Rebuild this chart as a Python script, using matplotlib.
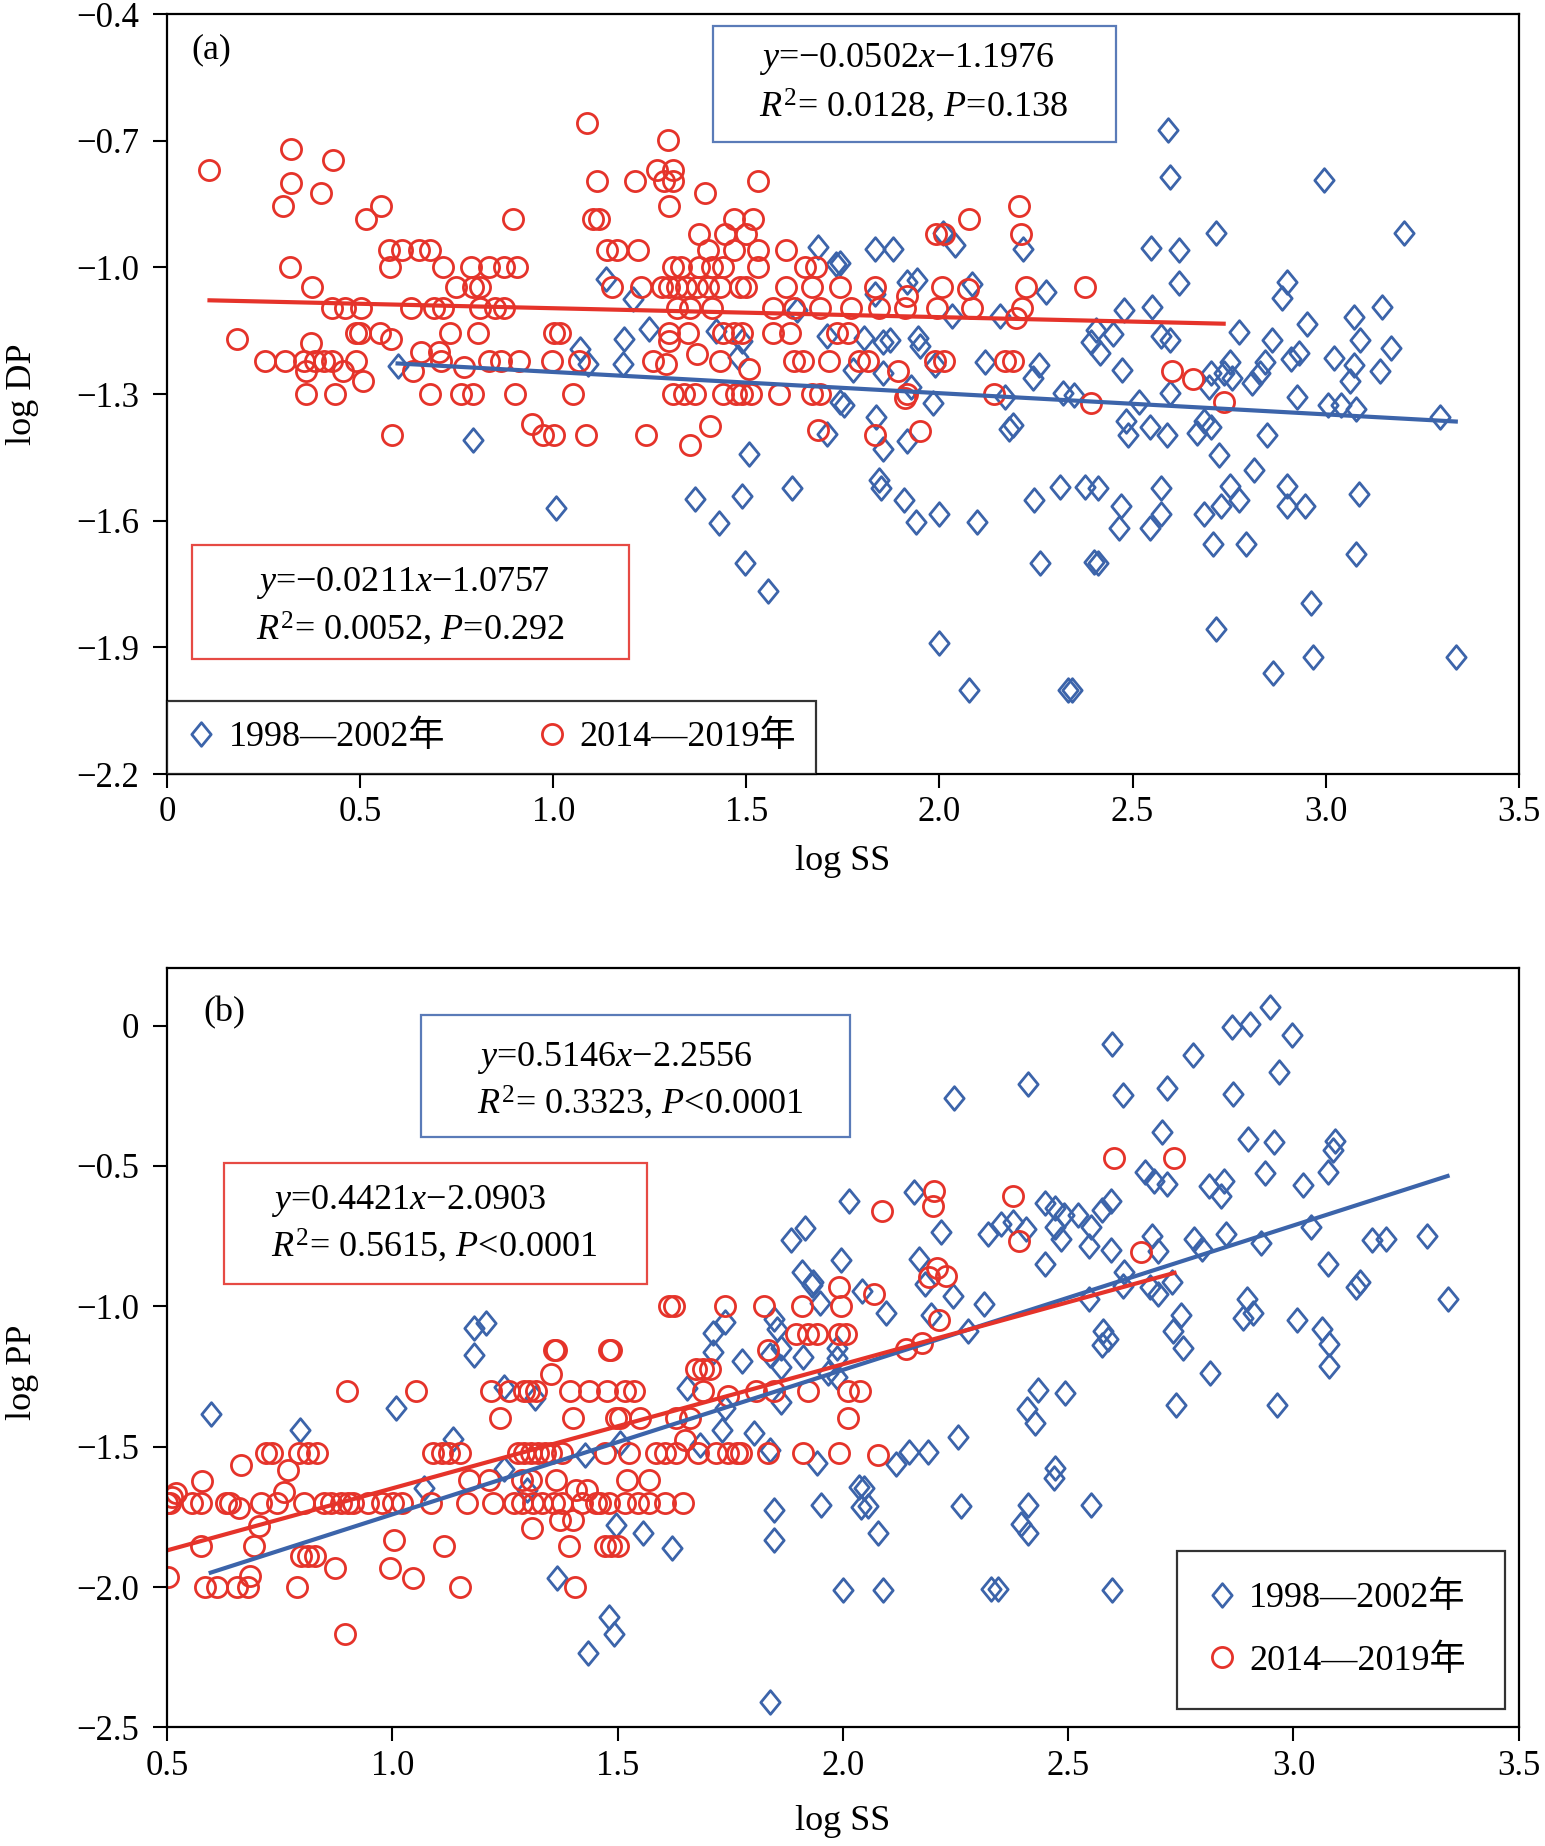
import matplotlib
matplotlib.use('Agg')
import matplotlib.pyplot as plt
from matplotlib.patches import Rectangle
from matplotlib.path import Path
import numpy as np

plt.rcParams['font.family'] = ['Liberation Serif', 'Noto Sans CJK SC']
plt.rcParams['mathtext.fontset'] = 'custom'
plt.rcParams['mathtext.rm'] = 'Liberation Serif'
plt.rcParams['mathtext.it'] = 'Liberation Serif:italic'

# ---------------- data: panel (a) log SS vs log DP ----------------
dp_red_x = [0.11, 0.32, 0.32, 0.30, 0.40, 0.43, 0.555, 0.515, 0.895, 1.087,
            1.113, 1.103, 1.118, 1.212, 1.27, 1.297, 1.31, 1.287, 1.31, 1.30,
            1.394, 1.531, 1.467, 1.518, 1.377, 1.445, 1.50, 2.205, 2.21, 2.077,
            1.991, 2.012,
            0.574, 0.608, 0.653, 0.681, 1.14, 1.164, 1.22, 1.40, 1.467, 1.529, 1.602,
            0.319, 0.578, 0.715, 0.788, 0.833, 0.872, 0.906, 1.31, 1.332, 1.377,
            1.411, 1.439, 1.529, 1.652, 1.68,
            0.376, 0.749, 0.793, 0.81, 1.153, 1.226, 1.282, 1.299, 1.321, 1.344,
            1.372, 1.40, 1.433, 1.484, 1.50, 1.602, 1.669, 1.742, 1.832, 2.006,
            2.225, 2.376,
            0.428, 0.462, 0.501, 0.631, 0.692, 0.715, 0.81, 0.85, 0.872, 1.321,
            1.355, 1.411, 1.568, 1.624, 1.692, 1.77, 1.843, 1.91, 1.995, 2.085, 2.214,
            0.49, 0.50, 0.552, 0.732, 0.805, 1.001, 1.018, 1.299, 1.349, 1.439,
            1.467, 1.49, 1.568, 1.613, 1.736, 1.764,
            0.254, 0.305, 0.355, 0.383, 0.406, 0.428, 0.49, 0.709, 0.833, 0.866,
            0.911, 0.996, 1.068, 1.259, 1.433, 1.624, 1.647, 1.714, 1.793, 1.815,
            1.989, 2.012, 2.169, 2.191,
            0.361, 0.434, 0.681, 0.76, 0.793, 0.90, 1.052, 1.31, 1.338, 1.366,
            1.439, 1.473, 1.49, 1.512, 1.585, 1.669, 1.692, 1.916, 2.141,
            0.583, 0.973, 1.001, 1.085, 1.24, 1.832,
            0.18, 0.58, 1.299, 0.372, 0.658, 0.703, 1.293, 1.372, 0.636, 0.456,
            0.361, 0.77, 1.506, 0.507, 0.945, 1.353, 1.405, 1.686, 1.916, 2.073,
            2.197, 1.894, 1.91, 2.393, 2.601, 2.657, 2.736, 1.95]
dp_red_y = [-0.77, -0.72, -0.80, -0.854, -0.824, -0.745, -0.854, -0.886, -0.886, -0.658,
            -0.796, -0.886, -0.886, -0.796, -0.77, -0.699, -0.77, -0.796, -0.796, -0.854,
            -0.824, -0.796, -0.886, -0.886, -0.921, -0.921, -0.921, -0.854, -0.921, -0.886,
            -0.921, -0.921,
            -0.959, -0.959, -0.959, -0.959, -0.959, -0.959, -0.959, -0.959, -0.959, -0.959, -0.959,
            -1.0, -1.0, -1.0, -1.0, -1.0, -1.0, -1.0, -1.0, -1.0, -1.0,
            -1.0, -1.0, -1.0, -1.0, -1.0,
            -1.046, -1.046, -1.046, -1.046, -1.046, -1.046, -1.046, -1.046, -1.046, -1.046,
            -1.046, -1.046, -1.046, -1.046, -1.046, -1.046, -1.046, -1.046, -1.046, -1.046,
            -1.046, -1.046,
            -1.097, -1.097, -1.097, -1.097, -1.097, -1.097, -1.097, -1.097, -1.097, -1.097,
            -1.097, -1.097, -1.097, -1.097, -1.097, -1.097, -1.097, -1.097, -1.097, -1.097, -1.097,
            -1.155, -1.155, -1.155, -1.155, -1.155, -1.155, -1.155, -1.155, -1.155, -1.155,
            -1.155, -1.155, -1.155, -1.155, -1.155, -1.155,
            -1.222, -1.222, -1.222, -1.222, -1.222, -1.222, -1.222, -1.222, -1.222, -1.222,
            -1.222, -1.222, -1.222, -1.222, -1.222, -1.222, -1.222, -1.222, -1.222, -1.222,
            -1.222, -1.222, -1.222, -1.222,
            -1.301, -1.301, -1.301, -1.301, -1.301, -1.301, -1.301, -1.301, -1.301, -1.301,
            -1.301, -1.301, -1.301, -1.301, -1.301, -1.301, -1.301, -1.301, -1.301,
            -1.398, -1.398, -1.398, -1.398, -1.398, -1.398,
            -1.17, -1.17, -1.175, -1.18, -1.20, -1.20, -1.23, -1.205, -1.245, -1.245,
            -1.245, -1.237, -1.24, -1.27, -1.37, -1.42, -1.375, -1.385, -1.068, -1.052,
            -1.12, -1.246, -1.31, -1.322, -1.246, -1.265, -1.32, -1.387]

dp_blue_x = [0.597, 1.136, 1.207, 1.248, 1.184, 1.069, 1.091, 1.181, 0.793, 1.686,
             1.731, 1.49, 1.478, 1.422, 1.708, 1.742, 1.708, 1.506, 1.618, 1.49,
             1.366, 1.007, 1.43, 1.497, 1.555, 1.63,
             2.592, 2.598, 2.996, 2.717, 3.202, 2.548, 2.62, 2.216, 2.04, 2.008,
             1.832, 1.879, 1.742, 2.62, 2.899, 2.887, 2.275, 1.916, 1.942, 2.085,
             1.832, 2.551, 2.478, 3.146, 3.073, 2.953, 2.775, 2.862, 3.09, 3.17,
             3.022, 2.932, 2.91, 2.405, 2.45, 2.393, 2.416, 2.573, 2.596, 2.472,
             2.032, 2.157, 1.804, 1.854, 1.871, 1.944, 1.95, 1.776, 1.854, 1.989,
             2.118, 2.259, 2.242, 2.753, 2.736, 2.758, 2.843, 2.831, 2.809, 3.073,
             3.062, 3.14, 2.702, 2.697, 2.596, 2.517, 2.32, 2.348, 2.169, 1.927,
             1.983, 1.753, 2.927, 3.005, 3.039, 3.078, 3.297, 2.483, 2.489, 2.545,
             2.59, 2.668, 2.685, 2.702, 2.848, 2.725, 2.814, 1.837, 1.854, 1.916,
             2.18, 2.191, 1.843, 1.849, 1.908, 1.939, 1.998, 2.096, 2.245, 2.312,
             2.376, 2.41, 2.47, 2.466, 2.573, 2.573, 2.545, 2.685, 2.73, 2.753,
             2.775, 2.899, 2.899, 2.946, 3.087, 2.708, 2.795, 3.078, 2.261, 2.399,
             2.41, 2.0, 2.963, 2.717, 2.966, 3.337, 2.863, 2.077, 2.332, 2.343]
dp_blue_y = [-1.233, -1.027, -1.075, -1.146, -1.17, -1.193, -1.229, -1.229, -1.409, -0.952,
             -0.992, -1.174, -1.213, -1.15, -1.162, -1.32, -1.395, -1.442, -1.522, -1.541,
             -1.549, -1.57, -1.605, -1.70, -1.767, -1.10,
             -0.674, -0.785, -0.792, -0.918, -0.918, -0.953, -0.96, -0.956, -0.946, -0.918,
             -0.956, -0.956, -0.989, -1.038, -1.035, -1.073, -1.059, -1.035, -1.03, -1.04,
             -1.064, -1.094, -1.101, -1.094, -1.118, -1.134, -1.153, -1.172, -1.172, -1.19,
             -1.214, -1.204, -1.218, -1.148, -1.157, -1.176, -1.204, -1.162, -1.172, -1.242,
             -1.115, -1.115, -1.167, -1.176, -1.172, -1.167, -1.186, -1.242, -1.251, -1.232,
             -1.223, -1.232, -1.261, -1.223, -1.251, -1.261, -1.223, -1.251, -1.275, -1.232,
             -1.27, -1.246, -1.251, -1.284, -1.298, -1.319, -1.298, -1.303, -1.307, -1.284,
             -1.322, -1.326, -1.307, -1.326, -1.326, -1.336, -1.354, -1.364, -1.397, -1.378,
             -1.397, -1.392, -1.364, -1.378, -1.397, -1.444, -1.481, -1.354, -1.43, -1.411,
             -1.383, -1.373, -1.504, -1.523, -1.551, -1.603, -1.584, -1.603, -1.551, -1.521,
             -1.521, -1.523, -1.565, -1.617, -1.523, -1.584, -1.617, -1.584, -1.565, -1.519,
             -1.551, -1.519, -1.565, -1.565, -1.537, -1.656, -1.656, -1.678, -1.70, -1.697,
             -1.70, -1.889, -1.795, -1.856, -1.922, -1.922, -1.96, -2.001, -2.001, -2.001]

# ---------------- data: panel (b) log SS vs log PP ----------------
pp_red_x = [1.615, 1.625, 1.739, 1.826, 1.91, 1.995, 1.991,
            1.897, 1.922, 1.942, 1.991, 2.006,
            1.358, 1.363, 1.481, 1.486, 1.833, 1.353,
            1.674, 1.689, 1.704,
            0.90, 1.053, 1.219, 1.259, 1.293, 1.303, 1.318, 1.395, 1.437, 1.476,
            1.516, 1.536, 1.689, 1.808, 1.848, 1.922, 2.011, 2.037, 1.744,
            1.239, 1.402, 1.496, 1.506, 1.55, 1.63, 1.66, 2.011, 1.65,
            0.719, 0.734, 0.793, 0.813, 0.833, 1.09, 1.11, 1.125, 1.15, 1.278,
            1.293, 1.308, 1.323, 1.338, 1.353, 1.377, 1.471, 1.526, 1.585, 1.605,
            1.63, 1.679, 1.719, 1.744, 1.764, 1.774, 1.833, 1.912, 1.991, 2.079,
            0.665, 0.768, 0.578, 0.759,
            1.17, 1.214, 1.288, 1.308, 1.363, 1.521, 1.57, 1.407, 1.432,
            0.50, 0.506, 0.556, 0.576, 0.63, 0.64, 0.709, 0.744, 0.803, 0.848,
            0.863, 0.887, 0.902, 0.912, 0.947, 0.977, 1.001, 1.021, 1.085, 1.165,
            1.224, 1.269, 1.288, 1.313, 1.333, 1.358, 1.377, 1.422, 1.452, 1.462,
            1.481, 1.516, 1.546, 1.57, 1.605, 1.645,
            0.51, 0.52, 0.66, 1.373, 1.402, 0.704, 1.31, 0.576, 0.694, 0.798,
            0.813, 0.828, 0.872, 1.004, 0.996, 1.046, 1.115, 1.392, 1.471, 1.486,
            1.501, 0.503, 0.684,
            0.585, 0.61, 0.655, 0.68, 0.788, 1.15, 1.405, 0.894,
            2.087, 2.203, 2.199, 2.378, 2.392, 2.602, 2.736, 2.661, 2.21, 2.191,
            2.228, 2.07, 2.214, 2.14, 2.175]
pp_red_y = [-1.0, -1.0, -1.0, -1.0, -1.0, -1.0, -0.93,
            -1.097, -1.097, -1.097, -1.097, -1.097,
            -1.155, -1.155, -1.155, -1.155, -1.155, -1.24,
            -1.222, -1.222, -1.222,
            -1.301, -1.301, -1.301, -1.301, -1.301, -1.301, -1.301, -1.301, -1.301, -1.301,
            -1.301, -1.301, -1.301, -1.301, -1.301, -1.301, -1.301, -1.301, -1.321,
            -1.398, -1.398, -1.398, -1.398, -1.398, -1.398, -1.398, -1.398, -1.476,
            -1.523, -1.523, -1.523, -1.523, -1.523, -1.523, -1.523, -1.523, -1.523, -1.523,
            -1.523, -1.523, -1.523, -1.523, -1.523, -1.523, -1.523, -1.523, -1.523, -1.523,
            -1.523, -1.523, -1.523, -1.523, -1.523, -1.523, -1.523, -1.523, -1.523, -1.53,
            -1.565, -1.583, -1.622, -1.66,
            -1.62, -1.62, -1.62, -1.62, -1.62, -1.62, -1.62, -1.654, -1.654,
            -1.699, -1.699, -1.699, -1.699, -1.699, -1.699, -1.699, -1.699, -1.699, -1.699,
            -1.699, -1.699, -1.699, -1.699, -1.699, -1.699, -1.699, -1.699, -1.699, -1.699,
            -1.699, -1.699, -1.699, -1.699, -1.699, -1.699, -1.699, -1.699, -1.699, -1.699,
            -1.699, -1.699, -1.699, -1.699, -1.699, -1.699,
            -1.68, -1.665, -1.72, -1.76, -1.76, -1.784, -1.79, -1.855, -1.853, -1.89,
            -1.89, -1.89, -1.933, -1.832, -1.933, -1.968, -1.855, -1.855, -1.855, -1.855,
            -1.855, -1.965, -1.962,
            -2.0, -2.0, -2.0, -2.0, -2.0, -2.0, -2.0, -2.167,
            -0.661, -0.589, -0.644, -0.606, -0.768, -0.473, -0.473, -0.807, -0.862, -0.896,
            -0.893, -0.956, -1.05, -1.152, -1.13]

pp_blue_x = [0.597, 0.795, 1.009, 1.182, 1.207, 1.182, 1.07, 1.135, 1.247, 1.249,
             1.316, 1.298, 1.427, 1.366, 1.506, 1.496, 1.556, 1.62, 1.481, 1.493,
             1.435, 1.653, 1.684, 1.712, 1.739, 1.712, 1.732, 1.776, 1.739, 1.803,
             1.838, 1.848, 1.853, 1.838, 1.862, 1.862, 1.848, 1.848, 1.912, 1.942,
             1.952, 1.949, 1.932, 1.986, 1.986, 2.036, 2.04, 2.001, 1.838, 1.966,
             2.014, 1.915, 1.885, 1.995, 1.909, 1.933, 1.862, 1.987,
             2.948, 2.864, 2.904, 2.996, 2.597, 2.777, 2.968, 2.411, 2.247, 2.621,
             2.719, 2.865, 2.708, 2.899, 2.957, 3.092, 3.088, 2.936, 3.076, 3.022,
             2.67, 2.691, 2.719, 2.812, 2.845, 2.84, 2.158, 2.448, 2.471, 2.49,
             2.471, 2.485, 2.521, 2.551, 2.574, 2.595, 2.546, 2.595, 2.686, 2.70,
             2.624, 2.621, 2.546, 2.681, 2.70, 2.73, 2.217, 2.168, 2.182, 2.244,
             2.196, 2.096, 2.042, 2.313, 2.322, 2.35, 2.378, 2.406, 2.448, 2.278,
             2.78, 2.798, 2.85, 2.929, 3.038, 3.076, 3.175, 3.205, 3.296, 3.342,
             3.139, 3.148, 2.896, 2.91, 2.889, 2.751, 2.733, 2.754, 3.008, 3.064,
             3.08, 3.08, 2.577, 2.588, 2.574, 2.814, 2.74, 2.964, 2.433, 2.492,
             2.408, 2.427, 2.256, 2.147, 2.188, 2.119, 2.046, 2.056, 2.079, 2.263,
             2.41, 2.396, 2.41, 2.471, 2.469, 2.551, 2.088, 2.328, 2.345, 2.597]
pp_blue_y = [-1.383, -1.44, -1.363, -1.078, -1.06, -1.173, -1.648, -1.473, -1.286, -1.58,
             -1.327, -1.654, -1.529, -1.968, -1.488, -1.78, -1.806, -1.861, -2.105, -2.167,
             -2.233, -1.292, -1.494, -1.094, -1.054, -1.161, -1.44, -1.193, -1.363, -1.452,
             -1.511, -1.046, -1.082, -1.173, -1.149, -1.339, -1.725, -1.832, -1.179, -1.559,
             -1.707, -0.989, -0.924, -1.185, -1.25, -1.642, -1.713, -2.01, -2.408, -1.238,
             -0.623, -0.72, -0.763, -0.835, -0.876, -0.912, -1.215, -1.149,
             0.067, -0.006, 0.004, -0.035, -0.066, -0.103, -0.166, -0.209, -0.257, -0.248,
             -0.223, -0.245, -0.379, -0.405, -0.414, -0.41, -0.444, -0.526, -0.521, -0.569,
             -0.521, -0.555, -0.564, -0.572, -0.555, -0.606, -0.592, -0.632, -0.649, -0.674,
             -0.717, -0.76, -0.674, -0.717, -0.657, -0.623, -0.785, -0.799, -0.751, -0.802,
             -0.876, -0.927, -0.973, -0.93, -0.956, -0.913, -0.734, -0.831, -0.922, -0.964,
             -1.032, -1.024, -0.947, -0.99, -0.743, -0.708, -0.70, -0.725, -0.848, -1.087,
             -0.76, -0.794, -0.743, -0.773, -0.717, -0.848, -0.763, -0.76, -0.748, -0.973,
             -0.93, -0.913, -0.973, -1.024, -1.041, -1.032, -1.087, -1.148, -1.05, -1.08,
             -1.135, -1.211, -1.087, -1.118, -1.138, -1.237, -1.353, -1.353, -1.297, -1.31,
             -1.365, -1.416, -1.467, -1.518, -1.518, -1.561, -1.646, -1.711, -1.808, -1.711,
             -1.709, -1.774, -1.808, -1.575, -1.612, -1.709, -2.009, -2.008, -2.008, -2.009]

# fitted lines as printed on the chart: (slope, intercept)
fit_dp_blue = (-0.0502, -1.1976)
fit_dp_red = (-0.0211, -1.0757)
fit_pp_blue = (0.5146, -2.2556)
fit_pp_red = (0.4421, -2.0903)

eq_dp_blue = ['$y$=\u22120.0502$x$\u22121.1976', '$R^2$= 0.0128, $P$=0.138']
eq_dp_red = ['$y$=\u22120.0211$x$\u22121.0757', '$R^2$= 0.0052, $P$=0.292']
eq_pp_blue = ['$y$=0.5146$x$\u22122.2556', '$R^2$= 0.3323, $P$<0.0001']
eq_pp_red = ['$y$=0.4421$x$\u22122.0903', '$R^2$= 0.5615, $P$<0.0001']

labels = ['1998\u20142002年', '2014\u20142019年']

xticks_a = [0, 0.5, 1.0, 1.5, 2.0, 2.5, 3.0, 3.5]
xlabels_a = ['0', '0.5', '1.0', '1.5', '2.0', '2.5', '3.0', '3.5']
yticks_a = [-2.2, -1.9, -1.6, -1.3, -1.0, -0.7, -0.4]
ylabels_a = ['\u22122.2', '\u22121.9', '\u22121.6', '\u22121.3', '\u22121.0', '\u22120.7', '\u22120.4']
xticks_b = [0.5, 1.0, 1.5, 2.0, 2.5, 3.0, 3.5]
xlabels_b = ['0.5', '1.0', '1.5', '2.0', '2.5', '3.0', '3.5']
yticks_b = [-2.5, -2.0, -1.5, -1.0, -0.5, 0]
ylabels_b = ['\u22122.5', '\u22122.0', '\u22121.5', '\u22121.0', '\u22120.5', '0']

BLUE = '#3c64aa'
RED = '#e5332a'
BLUE_BOX = '#5a7bb8'
RED_BOX = '#e64a44'
FS = 26

# slightly tall diamond, as drawn in the original figure
TALL_DIAMOND = Path([(0, 1), (0.82, 0), (0, -1), (-0.82, 0), (0, 1)],
                    [Path.MOVETO, Path.LINETO, Path.LINETO, Path.LINETO, Path.CLOSEPOLY])


def scatter_panel(ax, bx, by, rx, ry, fit_b, fit_r):
    hb, = ax.plot(bx, by, marker=TALL_DIAMOND, ls='none', mfc='none', mec=BLUE, ms=17, mew=2.0)
    hr, = ax.plot(rx, ry, 'o', ls='none', mfc='none', mec=RED, ms=14.5, mew=2.0)
    xb = np.array([min(bx), max(bx)])
    xr = np.array([min(rx), max(rx)])
    ax.plot(xb, fit_b[0] * xb + fit_b[1], color=BLUE, lw=3.0)
    ax.plot(xr, fit_r[0] * xr + fit_r[1], color=RED, lw=3.0)
    for s in ax.spines.values():
        s.set_linewidth(1.6)
    ax.tick_params(direction='out', length=10, width=1.5, labelsize=FS - 1)
    ax.tick_params(axis='x', pad=6)
    ax.tick_params(axis='y', pad=10)
    return hb, hr


def eq_box(ax, rect, lines, x_text, y_lines, color):
    ax.add_patch(Rectangle((rect[0], rect[1]), rect[2], rect[3], transform=ax.transAxes,
                           fill=False, edgecolor=color, lw=1.6, zorder=5))
    for line, yl in zip(lines, y_lines):
        ax.text(x_text, yl, line, transform=ax.transAxes, fontsize=FS,
                ha='left', va='center', zorder=6)


fig = plt.figure(figsize=(15.45, 18.46), dpi=100)

# panel (a)
ax1 = fig.add_axes([0.1081, 0.5807, 0.8749, 0.4117])
hb, hr = scatter_panel(ax1, dp_blue_x, dp_blue_y, dp_red_x, dp_red_y, fit_dp_blue, fit_dp_red)
ax1.set_xlim(0, 3.5)
ax1.set_ylim(-2.2, -0.4)
ax1.set_xticks(xticks_a, xlabels_a)
ax1.set_yticks(yticks_a, ylabels_a)
ax1.set_xlabel('log SS', fontsize=FS)
ax1.set_ylabel('log DP', fontsize=FS)
ax1.xaxis.set_label_coords(0.5, -0.093)
ax1.yaxis.set_label_coords(-0.0945, 0.5)
ax1.text(0.018, 0.953, '(a)', transform=ax1.transAxes, fontsize=FS, va='center')
eq_box(ax1, (0.404, 0.831, 0.298, 0.1535), eq_dp_blue, 0.438, (0.941, 0.879), BLUE_BOX)
eq_box(ax1, (0.0183, 0.152, 0.3232, 0.149), eq_dp_red, 0.066, (0.251, 0.191), RED_BOX)
leg1 = ax1.legend([hb, hr], labels, ncol=2, loc='lower left', mode='expand',
                  bbox_to_anchor=(0, 0, 0.48, 0.116), borderaxespad=0, fontsize=FS,
                  frameon=True, fancybox=False, edgecolor='black', handlelength=0.8,
                  handletextpad=0.35, borderpad=0.55)
leg1.get_frame().set_linewidth(1.6)

# panel (b)
ax2 = fig.add_axes([0.1081, 0.0642, 0.8749, 0.4114])
hb, hr = scatter_panel(ax2, pp_blue_x, pp_blue_y, pp_red_x, pp_red_y, fit_pp_blue, fit_pp_red)
ax2.set_xlim(0.5, 3.5)
ax2.set_ylim(-2.5, 0.205)
ax2.set_xticks(xticks_b, xlabels_b)
ax2.set_yticks(yticks_b, ylabels_b)
ax2.set_xlabel('log SS', fontsize=FS)
ax2.set_ylabel('log PP', fontsize=FS)
ax2.xaxis.set_label_coords(0.5, -0.102)
ax2.yaxis.set_label_coords(-0.0945, 0.468)
ax2.text(0.027, 0.941, '(b)', transform=ax2.transAxes, fontsize=FS, va='center')
eq_box(ax2, (0.188, 0.778, 0.317, 0.160), eq_pp_blue, 0.229, (0.882, 0.823), BLUE_BOX)
eq_box(ax2, (0.0418, 0.584, 0.3132, 0.159), eq_pp_red, 0.0767, (0.693, 0.634), RED_BOX)
leg2 = ax2.legend([hb, hr], labels, ncol=1, loc='lower left', mode='expand',
                  bbox_to_anchor=(0.747, 0.025, 0.243, 0.209), borderaxespad=0,
                  fontsize=FS, frameon=True, fancybox=False, edgecolor='black',
                  handlelength=0.8, handletextpad=0.35, borderpad=0.85, labelspacing=0.8)
leg2.get_frame().set_linewidth(1.6)

fig.savefig('out.png', dpi=100)
